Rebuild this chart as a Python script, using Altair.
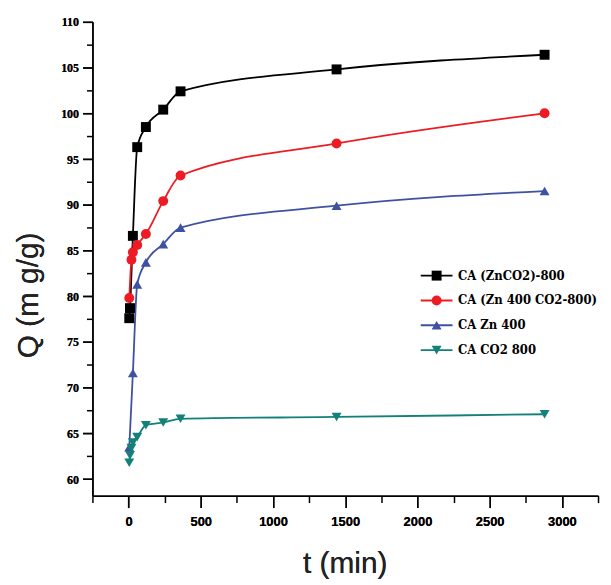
import altair as alt
import pandas as pd

series_names = ["CA (ZnCO2)-800", "CA (Zn 400 CO2-800)", "CA Zn 400", "CA CO2 800"]
series_colors = ["#000000", "#ed1c24", "#3f51a3", "#14807a"]
series_shapes = ["square", "circle", "triangle-up", "triangle-down"]

t_black = [5, 10, 30, 60, 120, 240, 360, 1440, 2880]
q_black = [77.6, 78.7, 86.6, 96.3, 98.5, 100.4, 102.4, 104.8, 106.4]

t_red = [5, 20, 30, 60, 120, 240, 360, 1440, 2880]
q_red = [79.8, 84.0, 84.8, 85.6, 86.8, 90.4, 93.2, 96.7, 100.0]

t_blue = [5, 30, 60, 120, 240, 360, 1440, 2880]
q_blue = [63.5, 71.6, 81.3, 83.7, 85.7, 87.5, 89.9, 91.5]

t_teal = [5, 10, 20, 30, 60, 120, 240, 360, 1440, 2880]
q_teal = [61.8, 62.6, 63.4, 64.0, 64.6, 65.9, 66.2, 66.6, 66.8, 67.1]

x_major = [0, 500, 1000, 1500, 2000, 2500, 3000]
x_minor = [-250, 250, 750, 1250, 1750, 2250, 2750, 3250]
y_major = [60, 65, 70, 75, 80, 85, 90, 95, 100, 105, 110]
y_minor = [62.5, 67.5, 72.5, 77.5, 82.5, 87.5, 92.5, 97.5, 102.5, 107.5]

rows = []
for name, ts, qs in zip(series_names, [t_black, t_red, t_blue, t_teal], [q_black, q_red, q_blue, q_teal]):
    for t, q in zip(ts, qs):
        rows.append({"t": t, "q": q, "series": name, "series_l": name})
df = pd.DataFrame(rows)

X_DOM = [-250, 3250]
Y_DOM = [58.2, 110]

label_font = "DejaVu Serif Condensed"
tick_font_x = "Liberation Sans"
tick_font_y = "Liberation Sans Narrow"

xs = alt.Scale(domain=X_DOM, nice=False, zero=False)
ys = alt.Scale(domain=Y_DOM, nice=False, zero=False)

x_axis = alt.Axis(values=x_major, format="d", tickSize=12, labelPadding=8, labelFont=tick_font_x,
                  labelFontSize=13, labelFontWeight="bold", labelColor="#000",
                  title="t (min)", titleFont="Liberation Sans", titleFontSize=30,
                  titleFontWeight="normal", titleColor="#222", titleX=254, titleY=68,
                  titleBaseline="middle", titleAlign="center", orient="bottom", grid=False)
y_axis = alt.Axis(values=y_major, format="d", tickSize=10, labelPadding=4, labelFont=tick_font_y,
                  labelFontSize=12, labelFontWeight="bold", labelColor="#000",
                  title="Q  (m g/g)", titleFont="Liberation Sans", titleFontSize=30,
                  titleFontWeight="normal", titleColor="#222", titleAngle=270,
                  titleX=-64, titleY=275, titleBaseline="middle", titleAlign="center",
                  orient="left", grid=False)

legend_common = dict(orient="none", legendX=340, legendY=249, title=None, symbolSize=100,
                     labelFont=label_font, labelFontSize=13, labelFontWeight="bold",
                     labelColor="#000", rowPadding=11, padding=0, labelLimit=400,
                     labelOffset=15)

lines = alt.Chart(df).mark_line(interpolate="monotone", strokeWidth=1.8).encode(
    x=alt.X("t:Q", scale=xs, axis=x_axis),
    y=alt.Y("q:Q", scale=ys, axis=y_axis),
    stroke=alt.Stroke("series_l:N", sort=series_names, scale=alt.Scale(range=series_colors),
                      legend=alt.Legend(symbolType="M-3.2,0H3.2", symbolStrokeWidth=2,
                                        **legend_common)),
)

pt_legend = alt.Legend(symbolStrokeWidth=0, labelOpacity=0, **legend_common)
points = alt.Chart(df).mark_point(filled=True, size=100, opacity=1).encode(
    x=alt.X("t:Q", scale=xs, axis=x_axis),
    y=alt.Y("q:Q", scale=ys, axis=y_axis),
    fill=alt.Fill("series:N", scale=alt.Scale(domain=series_names, range=series_colors), legend=pt_legend),
    shape=alt.Shape("series:N", scale=alt.Scale(domain=series_names, range=series_shapes), legend=pt_legend),
)

minor = alt.Chart(df).mark_point(opacity=0).encode(
    x=alt.X("t:Q", scale=xs, axis=alt.Axis(values=x_minor, tickSize=7, labels=False, domain=False,
                                            title=None, orient="bottom", grid=False)),
    y=alt.Y("q:Q", scale=ys, axis=alt.Axis(values=y_minor, tickSize=6, labels=False, domain=False,
                                            title=None, orient="left", grid=False)),
)

chart = alt.layer(lines, points, minor).resolve_axis(x="independent", y="independent").properties(
    width=509, height=477,
    autosize=alt.AutoSizeParams(type="none"),
    padding={"left": 85, "top": 12, "right": 5, "bottom": 82},
).configure_view(stroke=None).configure_axis(
    domainColor="#000", domainWidth=1.5, tickColor="#000", tickWidth=1.5
)

chart.save("out.html", embed_options={"renderer": "svg", "actions": False})
